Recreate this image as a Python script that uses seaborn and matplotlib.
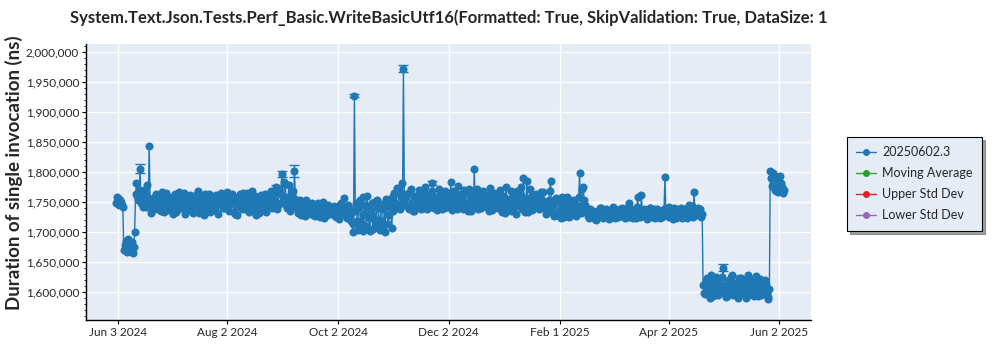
import matplotlib
matplotlib.use("Agg")
import matplotlib.pyplot as plt
import matplotlib.ticker as mticker
from matplotlib.lines import Line2D
import numpy as np
import pandas as pd
import seaborn as sns

TITLE = ("System.Text.Json.Tests.Perf_Basic.WriteBasicUtf16(Formatted: True, "
         "SkipValidation: True, DataSize: 1")
Y_LABEL = "Duration of single invocation (ns)"
SERIES_NAME = "20250602.3"
LEGEND_NAMES = [SERIES_NAME, "Moving Average", "Upper Std Dev", "Lower Std Dev"]
LEGEND_COLORS = ["#1f77b4", "#2ca02c", "#d62728", "#9467bd"]

FIRST_RUN = "2024-06-02"

# Morning run of each day, duration in microseconds
duration_am_us = [
    1748, 1756, 1752, 1745,
    1670, 1684, 1666, 1680, 1673, 1665, 1700,
    1781, 1752, 1805, 1758, 1770, 1741, 1778, 1843, 1731,
    1756, 1743, 1762, 1738, 1751, 1766, 1733, 1748, 1759, 1741,
    1754, 1729, 1762, 1746, 1737, 1758, 1749, 1765, 1734, 1752,
    1744, 1760, 1731, 1755, 1747, 1768, 1739, 1751, 1727, 1757,
    1742, 1763, 1736, 1753, 1745, 1761, 1730, 1749, 1758, 1740,
    1752, 1766, 1735, 1748, 1757, 1729, 1754, 1743, 1762, 1738,
    1750, 1741, 1764, 1733, 1756, 1746, 1760, 1728, 1753, 1744,
    1758, 1736, 1763, 1747, 1741, 1768, 1752,
    1762, 1774, 1744, 1765, 1796, 1752, 1780, 1740, 1778, 1748, 1768, 1801,
    1746, 1731, 1752, 1738, 1744, 1726, 1749, 1735, 1741, 1728,
    1743, 1733, 1747, 1724, 1738, 1730, 1745, 1727, 1736, 1740,
    1731, 1738, 1725, 1742, 1734, 1729, 1756, 1736, 1722, 1740, 1718,
    1699, 1927,
    1748, 1703, 1752, 1712, 1701, 1744, 1760, 1722, 1735, 1704,
    1749, 1716, 1739, 1702, 1746, 1713, 1700, 1742, 1728, 1755,
    1734, 1765, 1748, 1770, 1738, 1781,
    1972,
    1745, 1762, 1738, 1771, 1749, 1735, 1758, 1742, 1766, 1739,
    1753, 1774, 1737, 1760, 1744, 1781, 1740, 1756, 1747, 1763,
    1738, 1752, 1768, 1741, 1757, 1783, 1736, 1750, 1760, 1776,
    1743, 1755, 1738, 1764, 1748, 1771, 1734, 1758, 1805, 1745,
    1738, 1761, 1749, 1767, 1742, 1753, 1735, 1758, 1746, 1764,
    1751, 1740, 1770, 1744, 1759, 1731, 1755, 1748, 1768, 1737,
    1752, 1729, 1763, 1745, 1775, 1790, 1733, 1784, 1741, 1757,
    1736, 1750, 1762, 1744, 1758, 1740, 1766, 1748, 1737, 1753,
    1785, 1742, 1726, 1756, 1733, 1748, 1722, 1744, 1735, 1758,
    1724, 1747, 1738, 1752, 1726, 1743, 1797, 1731, 1774, 1745,
    1732, 1722, 1736, 1725, 1730, 1719, 1734, 1727, 1739, 1723,
    1729, 1736, 1721, 1733, 1726, 1738, 1731, 1724, 1737, 1728,
    1733, 1722, 1739, 1748, 1725, 1735, 1730, 1723, 1758, 1734,
    1761, 1727, 1736, 1721, 1732, 1740, 1725, 1738, 1729, 1735,
    1722, 1733, 1727, 1791, 1730, 1724, 1736, 1728, 1739, 1723,
    1734, 1726, 1740, 1729, 1737, 1722, 1745, 1731, 1742, 1766,
    1728, 1740, 1733, 1725,
    1611, 1596, 1622, 1603, 1590, 1617, 1606, 1625, 1594, 1613,
    1601, 1640, 1608, 1592, 1619, 1604, 1627, 1597, 1615, 1589,
    1610, 1623, 1599, 1618, 1605, 1594, 1621, 1609, 1592, 1626,
    1602, 1616, 1595, 1612, 1620, 1598, 1587,
    1801, 1776, 1794, 1768, 1787, 1772, 1781, 1764,
]

# Evening run of each day, duration in microseconds
duration_pm_us = [
    1757, 1744, 1749, 1741,
    1677, 1668, 1688, 1671, 1683, 1674, 1762,
    1760, 1769, 1747, 1741, 1756, 1762, 1749, 1752, 1746,
    1738, 1761, 1747, 1753, 1734, 1757, 1742, 1764, 1736, 1750,
    1745, 1759, 1733, 1754, 1766, 1740, 1752, 1729, 1758, 1743,
    1761, 1737, 1749, 1742, 1763, 1731, 1756, 1746, 1762, 1735,
    1750, 1733, 1760, 1744, 1736, 1755, 1748, 1765, 1739, 1754,
    1741, 1757, 1746, 1762, 1733, 1751, 1727, 1759, 1745, 1764,
    1737, 1755, 1742, 1749, 1767, 1738, 1748, 1756, 1731, 1761,
    1744, 1758, 1733, 1755, 1762, 1739, 1749,
    1751, 1738, 1770, 1747, 1759, 1782, 1744, 1757, 1734, 1762, 1741, 1755,
    1739, 1750, 1727, 1745, 1733, 1752, 1729, 1742, 1748, 1735,
    1726, 1744, 1732, 1740, 1749, 1723, 1737, 1744, 1729, 1733,
    1743, 1726, 1739, 1721, 1747, 1736, 1731, 1727, 1745, 1724, 1733,
    1712, 1735,
    1718, 1741, 1706, 1757, 1730, 1710, 1739, 1701, 1748, 1726,
    1707, 1752, 1719, 1744, 1703, 1738, 1754, 1712, 1747, 1706,
    1759, 1741, 1772, 1743, 1759, 1750,
    1762,
    1758, 1741, 1766, 1746, 1735, 1760, 1752, 1769, 1737, 1755,
    1740, 1762, 1750, 1741, 1767, 1749, 1758, 1736, 1771, 1744,
    1760, 1739, 1748, 1765, 1744, 1752, 1767, 1743, 1738, 1751,
    1762, 1740, 1770, 1746, 1735, 1758, 1763, 1741, 1749, 1771,
    1752, 1740, 1765, 1743, 1761, 1747, 1772, 1736, 1755, 1741,
    1763, 1740, 1758, 1733, 1750, 1775, 1741, 1753, 1735, 1760,
    1741, 1768, 1748, 1760, 1738, 1749, 1756, 1733, 1771, 1746,
    1760, 1743, 1751, 1737, 1766, 1752, 1745, 1729, 1741, 1768,
    1748, 1731, 1755, 1728, 1750, 1739, 1757, 1724, 1746, 1735,
    1753, 1729, 1749, 1733, 1741, 1758, 1736, 1771, 1752, 1738,
    1726, 1738, 1729, 1735, 1721, 1733, 1728, 1740, 1725, 1731,
    1737, 1724, 1734, 1728, 1741, 1723, 1736, 1730, 1726, 1739,
    1727, 1736, 1725, 1732, 1738, 1722, 1734, 1741, 1728, 1725,
    1733, 1738, 1724, 1730, 1740, 1728, 1735, 1722, 1737, 1727,
    1735, 1725, 1738, 1730, 1726, 1741, 1732, 1721, 1733, 1737,
    1728, 1738, 1723, 1735, 1727, 1739, 1729, 1736, 1724, 1738,
    1735, 1727, 1738, 1730,
    1598, 1619, 1605, 1614, 1627, 1593, 1620, 1601, 1612, 1597,
    1624, 1609, 1591, 1616, 1603, 1625, 1594, 1611, 1606, 1622,
    1596, 1607, 1615, 1590, 1628, 1600, 1611, 1596, 1618, 1604,
    1593, 1621, 1608, 1599, 1613, 1591, 1605,
    1789, 1797, 1770, 1783, 1766, 1792, 1775, 1769,
]

# Standard error of the runs that have a visible spread (microseconds)
error_dates = ["2024-06-15", "2024-08-29", "2024-09-01", "2024-09-08",
               "2024-10-11", "2024-11-07", "2024-11-23", "2025-05-02"]
error_us = [7, 4, 5, 10, 3, 6, 4, 6]

x_tick_labels = ["Jun 3 2024", "Aug 2 2024", "Oct 2 2024", "Dec 2 2024",
                 "Feb 1 2025", "Apr 2 2025", "Jun 2 2025"]

assert len(duration_am_us) == len(duration_pm_us)
days = pd.date_range(FIRST_RUN, periods=len(duration_am_us), freq="D")
am = pd.DataFrame({"date": days, "duration": np.array(duration_am_us) * 1000.0})
pm = pd.DataFrame({"date": days + pd.Timedelta(hours=12),
                   "duration": np.array(duration_pm_us) * 1000.0})
df = pd.concat([am, pm]).sort_values("date").reset_index(drop=True)

err = pd.Series(0.0, index=days)
for d, e in zip(error_dates, error_us):
    err[pd.Timestamp(d)] = e * 1000.0
err_mask = err.values > 0

sns.set_style("darkgrid", {"axes.facecolor": "#e5ecf6",
                           "grid.color": "white",
                           "axes.edgecolor": "black"})
plt.rcParams["font.family"] = ["Lato", "DejaVu Sans"]

fig = plt.figure(figsize=(10, 3.5), dpi=100)
ax = fig.add_axes([0.086, 0.086, 0.725, 0.788])

blue = LEGEND_COLORS[0]
sns.lineplot(data=df, x="date", y="duration", ax=ax, color=blue,
             linewidth=1.0, marker="o", markersize=5.8, markeredgewidth=0,
             estimator=None, sort=False, legend=False)

ax.errorbar(days[err_mask], am["duration"].values[err_mask],
            yerr=err.values[err_mask], fmt="none", ecolor=blue,
            elinewidth=1.0, capsize=3.5, capthick=1.0)

ax.set_xlim(pd.Timestamp("2024-05-16 05:00"), pd.Timestamp("2025-06-19 10:00"))
ax.set_ylim(1_552_800, 2_012_800)

ax.set_xticks([pd.Timestamp(s) for s in x_tick_labels])
ax.set_xticklabels(x_tick_labels)
ax.yaxis.set_major_locator(mticker.MultipleLocator(50_000))
ax.yaxis.set_minor_locator(mticker.MultipleLocator(10_000))
ax.yaxis.set_major_formatter(mticker.FuncFormatter(lambda v, p: f"{v:,.0f}"))
ax.grid(True, which="major", color="white", linewidth=1.0)
ax.grid(False, which="minor")

ax.tick_params(axis="both", which="major", labelsize=8.5, length=3,
               color="black", direction="out", pad=2, bottom=True, left=True)
ax.tick_params(axis="y", which="minor", length=1.5, color="black",
               direction="out", left=True)

for side in ("top", "right"):
    ax.spines[side].set_visible(False)
for side in ("left", "bottom"):
    ax.spines[side].set_color("black")
    ax.spines[side].set_linewidth(1.0)

ax.set_xlabel("")
ax.set_ylabel("")
fig.text(0.014, 0.506, Y_LABEL, rotation=90, ha="center", va="center",
         fontsize=13.5, fontweight="bold")
fig.text(0.07, 1 - 18 / 350, TITLE, ha="left", va="center",
         fontsize=12, fontweight="bold")

handles = [Line2D([0], [0], color=c, marker="o", markersize=4, linewidth=1.0)
           for c in LEGEND_COLORS]
leg = fig.legend(handles, LEGEND_NAMES, loc="upper left",
                 bbox_to_anchor=(0.847, 1 - 137 / 350), borderaxespad=0,
                 frameon=True, fancybox=False, shadow=True, fontsize=9,
                 handlelength=1.6, handletextpad=0.45, borderpad=0.75,
                 labelspacing=0.72)
leg.get_frame().set_edgecolor("black")
leg.get_frame().set_linewidth(0.8)

fig.savefig("out.png", dpi=100, facecolor="white")
